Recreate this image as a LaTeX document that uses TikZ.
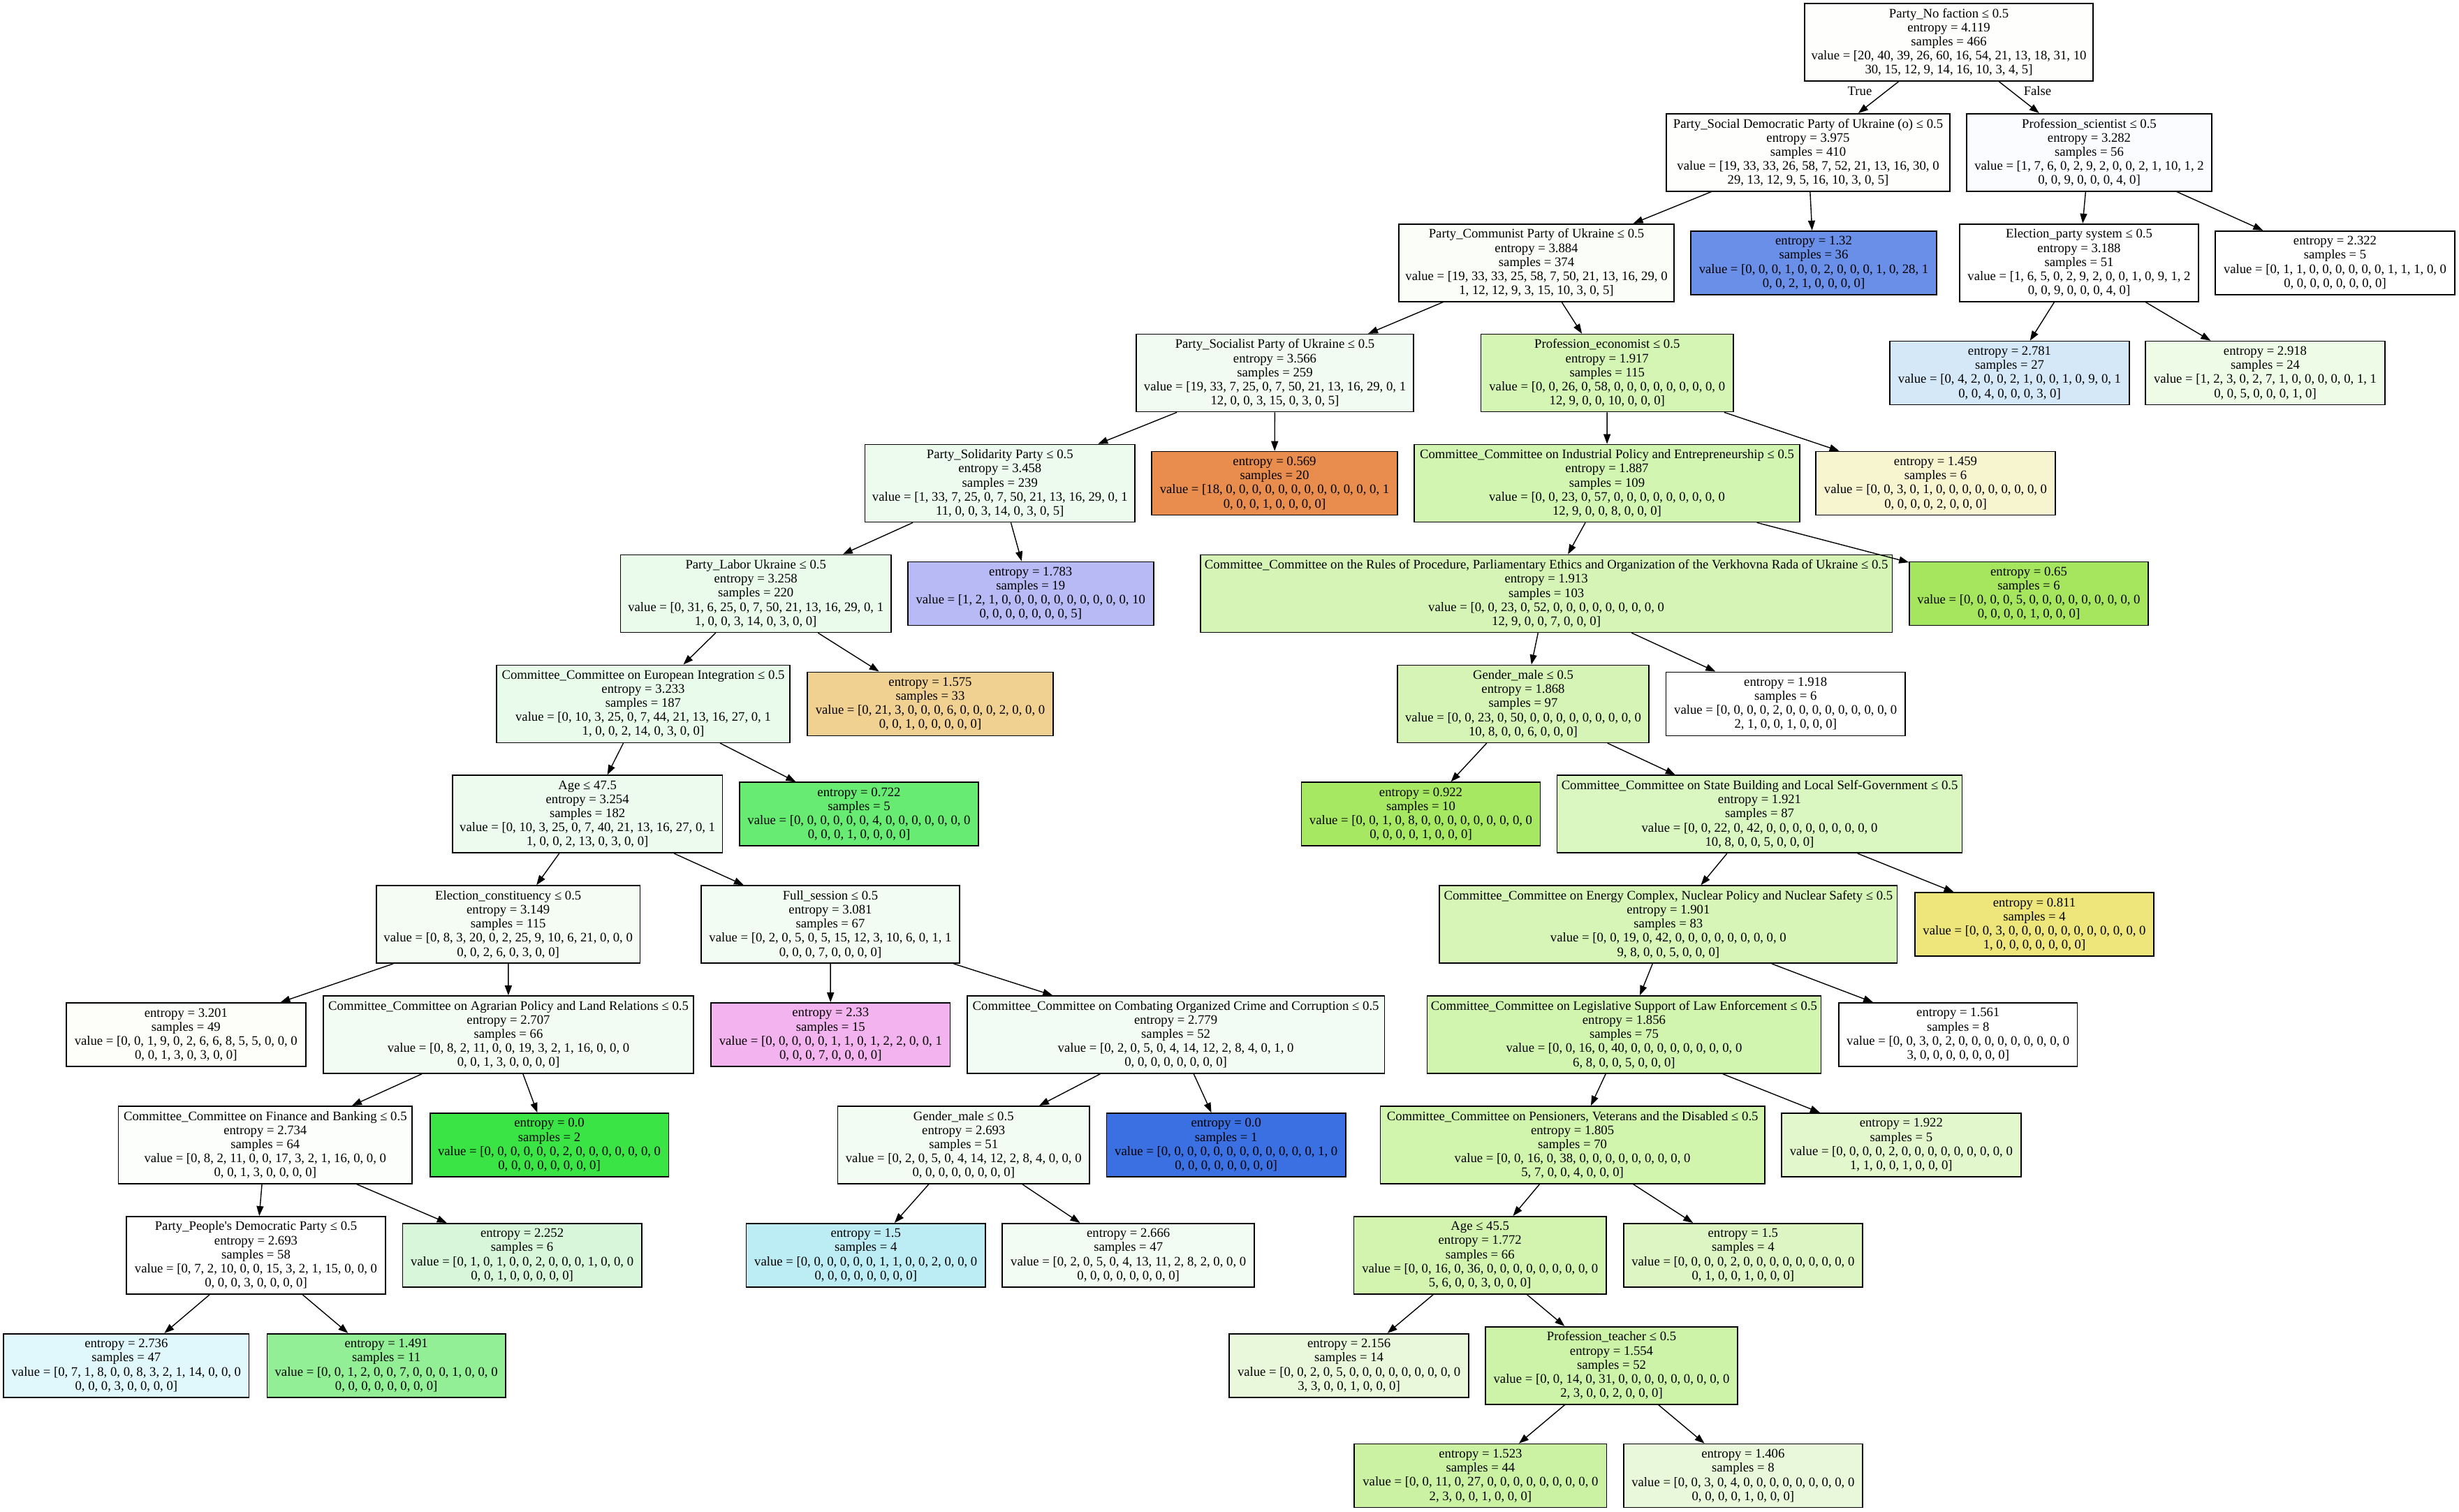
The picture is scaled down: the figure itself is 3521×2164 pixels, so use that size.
\documentclass[tikz,border=0pt]{standalone}
\usepackage{fontspec}
\setmainfont{Liberation Serif}
\usetikzlibrary{arrows.meta}

\newcommand{\treefont}{\fontsize{18.7}{20.2}\selectfont}

% node fill colours
\definecolor{fRoot}{HTML}{FEFEFC}
\definecolor{fSocDem}{HTML}{FEFEFC}
\definecolor{fProfSci}{HTML}{FBFCFF}
\definecolor{fCommunist}{HTML}{FBFDF9}
\definecolor{fA}{HTML}{6A8FE8}
\definecolor{fElecParty}{HTML}{FFFFFF}
\definecolor{fB}{HTML}{FFFFFF}
\definecolor{fSocialist}{HTML}{F1FBF1}
\definecolor{fProfEcon}{HTML}{D5F5B4}
\definecolor{fC}{HTML}{D4E8F7}
\definecolor{fD}{HTML}{EEFBE6}
\definecolor{fSolidarity}{HTML}{EDFBEE}
\definecolor{fE}{HTML}{E88D4E}
\definecolor{fIndustrial}{HTML}{D3F5B2}
\definecolor{fF}{HTML}{F7F5D0}
\definecolor{fLabor}{HTML}{EAFBEC}
\definecolor{fG}{HTML}{B8BAF5}
\definecolor{fRules}{HTML}{D6F4B6}
\definecolor{fH}{HTML}{A5E65E}
\definecolor{fEU}{HTML}{E9FBEA}
\definecolor{fI}{HTML}{F1D192}
\definecolor{fGenderA}{HTML}{D6F4B6}
\definecolor{fJ}{HTML}{FFFFFF}
\definecolor{fAgeA}{HTML}{EDFBEE}
\definecolor{fK}{HTML}{68EB72}
\definecolor{fL}{HTML}{A7E862}
\definecolor{fState}{HTML}{DAF6C1}
\definecolor{fElecConst}{HTML}{F4FCF3}
\definecolor{fFullSess}{HTML}{F3FCF3}
\definecolor{fEnergy}{HTML}{D6F5B6}
\definecolor{fM}{HTML}{EEE67A}
\definecolor{fN}{HTML}{FDFEFA}
\definecolor{fAgrarian}{HTML}{F2FCF2}
\definecolor{fO}{HTML}{F3B3EE}
\definecolor{fCombat}{HTML}{F2FCF4}
\definecolor{fLegis}{HTML}{D1F4AE}
\definecolor{fP}{HTML}{FFFFFF}
\definecolor{fFinance}{HTML}{FCFEFB}
\definecolor{fQ}{HTML}{39E444}
\definecolor{fGenderB}{HTML}{F2FCF2}
\definecolor{fR}{HTML}{3B70E3}
\definecolor{fPension}{HTML}{D2F5AD}
\definecolor{fS}{HTML}{E3F7CD}
\definecolor{fPeoples}{HTML}{FFFFFF}
\definecolor{fT}{HTML}{D8F7DA}
\definecolor{fU}{HTML}{BCEDF5}
\definecolor{fV}{HTML}{F3FCF2}
\definecolor{fAgeB}{HTML}{D2F4AE}
\definecolor{fW}{HTML}{DCF5C2}
\definecolor{fX}{HTML}{E0F7FB}
\definecolor{fY}{HTML}{92EF95}
\definecolor{fZ}{HTML}{E9F8DA}
\definecolor{fTeacher}{HTML}{CCF3A7}
\definecolor{fAA}{HTML}{CBF2A3}
\definecolor{fAB}{HTML}{E9F8DA}

\tikzset{
  treenode/.style={draw=black, line width=1.6pt, rectangle, inner sep=0pt,
    align=center, font=\treefont},
  split/.style={treenode, minimum height=111pt},
  leaf/.style={treenode, minimum height=91pt},
  edge/.style={line width=1.4pt, -{Triangle[length=14pt,width=10pt]}},
  branchlabel/.style={font=\treefont, inner sep=0pt},
}

\begin{document}
\begin{tikzpicture}[x=1pt, y=-1pt]
\fill[white] (0,0) rectangle (3521,2164);
\useasboundingbox (0,0) rectangle (3521,2164);

% level 0
\node[split, fill=fRoot, minimum width=413pt] (root) at (2790.5,60.4)
 {Party\_No faction ≤ 0.5\\entropy = 4.119\\samples = 466\\value = [20, 40, 39, 26, 60, 16, 54, 21, 13, 18, 31, 10\\30, 15, 12, 9, 14, 16, 10, 3, 4, 5]};

% level 1
\node[split, fill=fSocDem, minimum width=406pt] (socdem) at (2589,218.3)
 {Party\_Social Democratic Party of Ukraine (o) ≤ 0.5\\entropy = 3.975\\samples = 410\\value = [19, 33, 33, 26, 58, 7, 52, 21, 13, 16, 30, 0\\29, 13, 12, 9, 5, 16, 10, 3, 0, 5]};
\node[split, fill=fProfSci, minimum width=351pt] (profsci) at (2991.5,218.3)
 {Profession\_scientist ≤ 0.5\\entropy = 3.282\\samples = 56\\value = [1, 7, 6, 0, 2, 9, 2, 0, 0, 2, 1, 10, 1, 2\\0, 0, 9, 0, 0, 0, 4, 0]};

% level 2
\node[split, fill=fCommunist, minimum width=394pt] (communist) at (2200,376.2)
 {Party\_Communist Party of Ukraine ≤ 0.5\\entropy = 3.884\\samples = 374\\value = [19, 33, 33, 25, 58, 7, 50, 21, 13, 16, 29, 0\\1, 12, 12, 9, 3, 15, 10, 3, 0, 5]};
\node[leaf, fill=fA, minimum width=352pt] (lfA) at (2597,376.2)
 {entropy = 1.32\\samples = 36\\value = [0, 0, 0, 1, 0, 0, 2, 0, 0, 0, 1, 0, 28, 1\\0, 0, 2, 1, 0, 0, 0, 0]};
\node[split, fill=fElecParty, minimum width=342pt] (elecparty) at (2977,376.2)
 {Election\_party system ≤ 0.5\\entropy = 3.188\\samples = 51\\value = [1, 6, 5, 0, 2, 9, 2, 0, 0, 1, 0, 9, 1, 2\\0, 0, 9, 0, 0, 0, 4, 0]};
\node[leaf, fill=fB, minimum width=343pt] (lfB) at (3343.5,376.2)
 {entropy = 2.322\\samples = 5\\value = [0, 1, 1, 0, 0, 0, 0, 0, 0, 1, 1, 1, 0, 0\\0, 0, 0, 0, 0, 0, 0, 0]};

% level 3
\node[split, fill=fSocialist, minimum width=397pt] (socialist) at (1825.5,534.1)
 {Party\_Socialist Party of Ukraine ≤ 0.5\\entropy = 3.566\\samples = 259\\value = [19, 33, 7, 25, 0, 7, 50, 21, 13, 16, 29, 0, 1\\12, 0, 0, 3, 15, 0, 3, 0, 5]};
\node[split, fill=fProfEcon, minimum width=361.5pt] (profecon) at (2301.25,534.1)
 {Profession\_economist ≤ 0.5\\entropy = 1.917\\samples = 115\\value = [0, 0, 26, 0, 58, 0, 0, 0, 0, 0, 0, 0, 0, 0\\12, 9, 0, 0, 10, 0, 0, 0]};
\node[leaf, fill=fC, minimum width=343pt] (lfC) at (2877.5,534.1)
 {entropy = 2.781\\samples = 27\\value = [0, 4, 2, 0, 0, 2, 1, 0, 0, 1, 0, 9, 0, 1\\0, 0, 4, 0, 0, 0, 3, 0]};
\node[leaf, fill=fD, minimum width=343pt] (lfD) at (3243.5,534.1)
 {entropy = 2.918\\samples = 24\\value = [1, 2, 3, 0, 2, 7, 1, 0, 0, 0, 0, 0, 1, 1\\0, 0, 5, 0, 0, 0, 1, 0]};

% level 4
\node[split, fill=fSolidarity, minimum width=386.4pt] (solidarity) at (1431.8,692)
 {Party\_Solidarity Party ≤ 0.5\\entropy = 3.458\\samples = 239\\value = [1, 33, 7, 25, 0, 7, 50, 21, 13, 16, 29, 0, 1\\11, 0, 0, 3, 14, 0, 3, 0, 5]};
\node[leaf, fill=fE, minimum width=352pt] (lfE) at (1825,692)
 {entropy = 0.569\\samples = 20\\value = [18, 0, 0, 0, 0, 0, 0, 0, 0, 0, 0, 0, 0, 1\\0, 0, 0, 1, 0, 0, 0, 0]};
\node[split, fill=fIndustrial, minimum width=552pt] (industrial) at (2301,692)
 {Committee\_Committee on Industrial Policy and Entrepreneurship ≤ 0.5\\entropy = 1.887\\samples = 109\\value = [0, 0, 23, 0, 57, 0, 0, 0, 0, 0, 0, 0, 0, 0\\12, 9, 0, 0, 8, 0, 0, 0]};
\node[leaf, fill=fF, minimum width=343pt] (lfF) at (2771.5,692)
 {entropy = 1.459\\samples = 6\\value = [0, 0, 3, 0, 1, 0, 0, 0, 0, 0, 0, 0, 0, 0\\0, 0, 0, 0, 2, 0, 0, 0]};

% level 5
\node[split, fill=fLabor, minimum width=387.7pt] (labor) at (1082.2,849.9)
 {Party\_Labor Ukraine ≤ 0.5\\entropy = 3.258\\samples = 220\\value = [0, 31, 6, 25, 0, 7, 50, 21, 13, 16, 29, 0, 1\\1, 0, 0, 3, 14, 0, 3, 0, 0]};
\node[leaf, fill=fG, minimum width=352pt] (lfG) at (1475.75,849.9)
 {entropy = 1.783\\samples = 19\\value = [1, 2, 1, 0, 0, 0, 0, 0, 0, 0, 0, 0, 0, 10\\0, 0, 0, 0, 0, 0, 0, 5]};
\node[split, fill=fRules, minimum width=990.8pt] (rules) at (2214.1,849.9)
 {Committee\_Committee on the Rules of Procedure, Parliamentary Ethics and Organization of the Verkhovna Rada of Ukraine ≤ 0.5\\entropy = 1.913\\samples = 103\\value = [0, 0, 23, 0, 52, 0, 0, 0, 0, 0, 0, 0, 0, 0\\12, 9, 0, 0, 7, 0, 0, 0]};
\node[leaf, fill=fH, minimum width=342pt] (lfH) at (2905,849.9)
 {entropy = 0.65\\samples = 6\\value = [0, 0, 0, 0, 5, 0, 0, 0, 0, 0, 0, 0, 0, 0\\0, 0, 0, 0, 1, 0, 0, 0]};

% level 6
\node[split, fill=fEU, minimum width=420.5pt] (eu) at (921,1007.8)
 {Committee\_Committee on European Integration ≤ 0.5\\entropy = 3.233\\samples = 187\\value = [0, 10, 3, 25, 0, 7, 44, 21, 13, 16, 27, 0, 1\\1, 0, 0, 2, 14, 0, 3, 0, 0]};
\node[leaf, fill=fI, minimum width=352pt] (lfI) at (1332,1007.8)
 {entropy = 1.575\\samples = 33\\value = [0, 21, 3, 0, 0, 0, 6, 0, 0, 0, 2, 0, 0, 0\\0, 0, 1, 0, 0, 0, 0, 0]};
\node[split, fill=fGenderA, minimum width=360pt] (gendera) at (2181,1007.8)
 {Gender\_male ≤ 0.5\\entropy = 1.868\\samples = 97\\value = [0, 0, 23, 0, 50, 0, 0, 0, 0, 0, 0, 0, 0, 0\\10, 8, 0, 0, 6, 0, 0, 0]};
\node[leaf, fill=fJ, minimum width=342.5pt] (lfJ) at (2556.75,1007.8)
 {entropy = 1.918\\samples = 6\\value = [0, 0, 0, 0, 2, 0, 0, 0, 0, 0, 0, 0, 0, 0\\2, 1, 0, 0, 1, 0, 0, 0]};

% level 7
\node[split, fill=fAgeA, minimum width=386.7pt] (agea) at (841.15,1165.7)
 {Age ≤ 47.5\\entropy = 3.254\\samples = 182\\value = [0, 10, 3, 25, 0, 7, 40, 21, 13, 16, 27, 0, 1\\1, 0, 0, 2, 13, 0, 3, 0, 0]};
\node[leaf, fill=fK, minimum width=341.5pt] (lfK) at (1230,1165.7)
 {entropy = 0.722\\samples = 5\\value = [0, 0, 0, 0, 0, 0, 4, 0, 0, 0, 0, 0, 0, 0\\0, 0, 0, 1, 0, 0, 0, 0]};
\node[leaf, fill=fL, minimum width=342.2pt] (lfL) at (2034.5,1165.7)
 {entropy = 0.922\\samples = 10\\value = [0, 0, 1, 0, 8, 0, 0, 0, 0, 0, 0, 0, 0, 0\\0, 0, 0, 0, 1, 0, 0, 0]};
\node[split, fill=fState, minimum width=579.8pt] (state) at (2519.5,1165.7)
 {Committee\_Committee on State Building and Local Self-Government ≤ 0.5\\entropy = 1.921\\samples = 87\\value = [0, 0, 22, 0, 42, 0, 0, 0, 0, 0, 0, 0, 0, 0\\10, 8, 0, 0, 5, 0, 0, 0]};

% level 8
\node[split, fill=fElecConst, minimum width=377.8pt] (elecconst) at (727.7,1323.6)
 {Election\_constituency ≤ 0.5\\entropy = 3.149\\samples = 115\\value = [0, 8, 3, 20, 0, 2, 25, 9, 10, 6, 21, 0, 0, 0\\0, 0, 2, 6, 0, 3, 0, 0]};
\node[split, fill=fFullSess, minimum width=370pt] (fullsess) at (1189,1323.6)
 {Full\_session ≤ 0.5\\entropy = 3.081\\samples = 67\\value = [0, 2, 0, 5, 0, 5, 15, 12, 3, 10, 6, 0, 1, 1\\0, 0, 0, 7, 0, 0, 0, 0]};
\node[split, fill=fEnergy, minimum width=655.3pt] (energy) at (2388.85,1323.6)
 {Committee\_Committee on Energy Complex, Nuclear Policy and Nuclear Safety ≤ 0.5\\entropy = 1.901\\samples = 83\\value = [0, 0, 19, 0, 42, 0, 0, 0, 0, 0, 0, 0, 0, 0\\9, 8, 0, 0, 5, 0, 0, 0]};
\node[leaf, fill=fM, minimum width=342pt] (lfM) at (2913,1323.6)
 {entropy = 0.811\\samples = 4\\value = [0, 0, 3, 0, 0, 0, 0, 0, 0, 0, 0, 0, 0, 0\\1, 0, 0, 0, 0, 0, 0, 0]};

% level 9
\node[leaf, fill=fN, minimum width=343pt] (lfN) at (266.3,1481.5)
 {entropy = 3.201\\samples = 49\\value = [0, 0, 1, 9, 0, 2, 6, 6, 8, 5, 5, 0, 0, 0\\0, 0, 1, 3, 0, 3, 0, 0]};
\node[split, fill=fAgrarian, minimum width=530pt] (agrarian) at (728,1481.5)
 {Committee\_Committee on Agrarian Policy and Land Relations ≤ 0.5\\entropy = 2.707\\samples = 66\\value = [0, 8, 2, 11, 0, 0, 19, 3, 2, 1, 16, 0, 0, 0\\0, 0, 1, 3, 0, 0, 0, 0]};
\node[leaf, fill=fO, minimum width=342.6pt] (lfO) at (1189.3,1481.5)
 {entropy = 2.33\\samples = 15\\value = [0, 0, 0, 0, 0, 1, 1, 0, 1, 2, 2, 0, 0, 1\\0, 0, 0, 7, 0, 0, 0, 0]};
\node[split, fill=fCombat, minimum width=597.6pt] (combat) at (1683.6,1481.5)
 {Committee\_Committee on Combating Organized Crime and Corruption ≤ 0.5\\entropy = 2.779\\samples = 52\\value = [0, 2, 0, 5, 0, 4, 14, 12, 2, 8, 4, 0, 1, 0\\0, 0, 0, 0, 0, 0, 0, 0]};
\node[split, fill=fLegis, minimum width=563.9pt] (legis) at (2325.45,1481.5)
 {Committee\_Committee on Legislative Support of Law Enforcement ≤ 0.5\\entropy = 1.856\\samples = 75\\value = [0, 0, 16, 0, 40, 0, 0, 0, 0, 0, 0, 0, 0, 0\\6, 8, 0, 0, 5, 0, 0, 0]};
\node[leaf, fill=fP, minimum width=341.5pt] (lfP) at (2803.75,1481.5)
 {entropy = 1.561\\samples = 8\\value = [0, 0, 3, 0, 2, 0, 0, 0, 0, 0, 0, 0, 0, 0\\3, 0, 0, 0, 0, 0, 0, 0]};

% level 10
\node[split, fill=fFinance, minimum width=420.4pt] (finance) at (379.8,1639.4)
 {Committee\_Committee on Finance and Banking ≤ 0.5\\entropy = 2.734\\samples = 64\\value = [0, 8, 2, 11, 0, 0, 17, 3, 2, 1, 16, 0, 0, 0\\0, 0, 1, 3, 0, 0, 0, 0]};
\node[leaf, fill=fQ, minimum width=341.7pt] (lfQ) at (786.55,1639.4)
 {entropy = 0.0\\samples = 2\\value = [0, 0, 0, 0, 0, 0, 2, 0, 0, 0, 0, 0, 0, 0\\0, 0, 0, 0, 0, 0, 0, 0]};
\node[split, fill=fGenderB, minimum width=360.9pt] (genderb) at (1379.75,1639.4)
 {Gender\_male ≤ 0.5\\entropy = 2.693\\samples = 51\\value = [0, 2, 0, 5, 0, 4, 14, 12, 2, 8, 4, 0, 0, 0\\0, 0, 0, 0, 0, 0, 0, 0]};
\node[leaf, fill=fR, minimum width=342.4pt] (lfR) at (1755.7,1639.4)
 {entropy = 0.0\\samples = 1\\value = [0, 0, 0, 0, 0, 0, 0, 0, 0, 0, 0, 0, 1, 0\\0, 0, 0, 0, 0, 0, 0, 0]};
\node[split, fill=fPension, minimum width=550.2pt] (pension) at (2251.6,1639.4)
 {Committee\_Committee on Pensioners, Veterans and the Disabled ≤ 0.5\\entropy = 1.805\\samples = 70\\value = [0, 0, 16, 0, 38, 0, 0, 0, 0, 0, 0, 0, 0, 0\\5, 7, 0, 0, 4, 0, 0, 0]};
\node[leaf, fill=fS, minimum width=342.7pt] (lfS) at (2722.35,1639.4)
 {entropy = 1.922\\samples = 5\\value = [0, 0, 0, 0, 2, 0, 0, 0, 0, 0, 0, 0, 0, 0\\1, 1, 0, 0, 1, 0, 0, 0]};

% level 11
\node[split, fill=fPeoples, minimum width=371pt] (peoples) at (366.5,1797.3)
 {Party\_People\textquotesingle s Democratic Party ≤ 0.5\\entropy = 2.693\\samples = 58\\value = [0, 7, 2, 10, 0, 0, 15, 3, 2, 1, 15, 0, 0, 0\\0, 0, 0, 3, 0, 0, 0, 0]};
\node[leaf, fill=fT, minimum width=342.4pt] (lfT) at (747.6,1797.3)
 {entropy = 2.252\\samples = 6\\value = [0, 1, 0, 1, 0, 0, 2, 0, 0, 0, 1, 0, 0, 0\\0, 0, 1, 0, 0, 0, 0, 0]};
\node[leaf, fill=fU, minimum width=342.5pt] (lfU) at (1239.75,1797.3)
 {entropy = 1.5\\samples = 4\\value = [0, 0, 0, 0, 0, 0, 1, 1, 0, 0, 2, 0, 0, 0\\0, 0, 0, 0, 0, 0, 0, 0]};
\node[leaf, fill=fV, minimum width=361pt] (lfV) at (1615.7,1797.3)
 {entropy = 2.666\\samples = 47\\value = [0, 2, 0, 5, 0, 4, 13, 11, 2, 8, 2, 0, 0, 0\\0, 0, 0, 0, 0, 0, 0, 0]};
\node[split, fill=fAgeB, minimum width=361.4pt] (ageb) at (2119.2,1797.3)
 {Age ≤ 45.5\\entropy = 1.772\\samples = 66\\value = [0, 0, 16, 0, 36, 0, 0, 0, 0, 0, 0, 0, 0, 0\\5, 6, 0, 0, 3, 0, 0, 0]};
\node[leaf, fill=fW, minimum width=342.1pt] (lfW) at (2495.85,1797.3)
 {entropy = 1.5\\samples = 4\\value = [0, 0, 0, 0, 2, 0, 0, 0, 0, 0, 0, 0, 0, 0\\0, 1, 0, 0, 1, 0, 0, 0]};

% level 12
\node[leaf, fill=fX, minimum width=351.3pt] (lfX) at (180.85,1955.2)
 {entropy = 2.736\\samples = 47\\value = [0, 7, 1, 8, 0, 0, 8, 3, 2, 1, 14, 0, 0, 0\\0, 0, 0, 3, 0, 0, 0, 0]};
\node[leaf, fill=fY, minimum width=341.7pt] (lfY) at (553.15,1955.2)
 {entropy = 1.491\\samples = 11\\value = [0, 0, 1, 2, 0, 0, 7, 0, 0, 0, 1, 0, 0, 0\\0, 0, 0, 0, 0, 0, 0, 0]};
\node[leaf, fill=fZ, minimum width=342.7pt] (lfZ) at (1931.55,1955.2)
 {entropy = 2.156\\samples = 14\\value = [0, 0, 2, 0, 5, 0, 0, 0, 0, 0, 0, 0, 0, 0\\3, 3, 0, 0, 1, 0, 0, 0]};
\node[split, fill=fTeacher, minimum width=361pt] (teacher) at (2307.5,1955.2)
 {Profession\_teacher ≤ 0.5\\entropy = 1.554\\samples = 52\\value = [0, 0, 14, 0, 31, 0, 0, 0, 0, 0, 0, 0, 0, 0\\2, 3, 0, 0, 2, 0, 0, 0]};

% level 13
\node[leaf, fill=fAA, minimum width=361.4pt] (lfAA) at (2119.9,2113.1)
 {entropy = 1.523\\samples = 44\\value = [0, 0, 11, 0, 27, 0, 0, 0, 0, 0, 0, 0, 0, 0\\2, 3, 0, 0, 1, 0, 0, 0]};
\node[leaf, fill=fAB, minimum width=342.3pt] (lfAB) at (2495.85,2113.1)
 {entropy = 1.406\\samples = 8\\value = [0, 0, 3, 0, 4, 0, 0, 0, 0, 0, 0, 0, 0, 0\\0, 0, 0, 0, 1, 0, 0, 0]};

% branch labels under the root
\node[branchlabel] (truelabel) at (2663,130) {True};
\node[branchlabel] (falselabel) at (2917.5,130) {False};

% edges
\foreach \p/\c in {root/socdem, root/profsci,
  socdem/communist, socdem/lfA, profsci/elecparty, profsci/lfB,
  communist/socialist, communist/profecon, elecparty/lfC, elecparty/lfD,
  socialist/solidarity, socialist/lfE, profecon/industrial, profecon/lfF,
  solidarity/labor, solidarity/lfG, industrial/rules, industrial/lfH,
  labor/eu, labor/lfI, rules/gendera, rules/lfJ,
  eu/agea, eu/lfK, gendera/lfL, gendera/state,
  agea/elecconst, agea/fullsess, state/energy, state/lfM,
  elecconst/lfN, elecconst/agrarian, fullsess/lfO, fullsess/combat,
  energy/legis, energy/lfP,
  agrarian/finance, agrarian/lfQ, combat/genderb, combat/lfR,
  legis/pension, legis/lfS,
  finance/peoples, finance/lfT, genderb/lfU, genderb/lfV,
  pension/ageb, pension/lfW,
  peoples/lfX, peoples/lfY, ageb/lfZ, ageb/teacher,
  teacher/lfAA, teacher/lfAB}
  \draw[edge] (\p) -- (\c);
\end{tikzpicture}
\end{document}
